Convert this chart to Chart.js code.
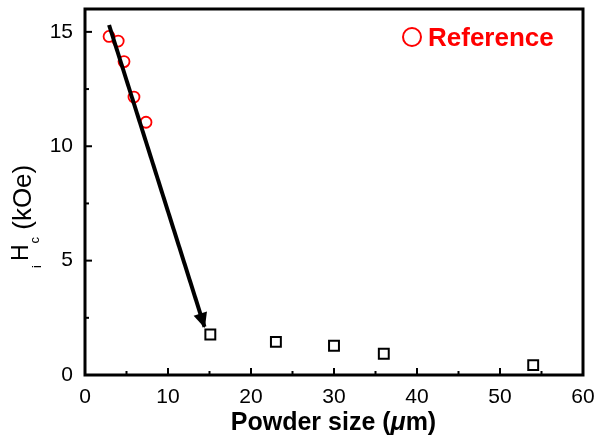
<!DOCTYPE html>
<html><head><meta charset="utf-8">
<script src="https://cdn.jsdelivr.net/npm/chart.js@4.4.0/dist/chart.umd.min.js"></script>
<style>html,body{margin:0;padding:0;background:#fff}#wrap{width:597px;height:439px}</style>
</head><body><div id="wrap"><canvas id="c" width="597" height="439"></canvas></div>
<script>
// ---- data ----
const refX = [2.9, 4.0, 4.7, 5.9, 7.35];
const refY = [14.8, 14.6, 13.7, 12.15, 11.05];
const sampleX = [15.1, 23.0, 30.0, 36.0, 54.0];
const sampleY = [1.77, 1.45, 1.28, 0.93, 0.43];
const arrowX = [2.9, 14.4];
const arrowY = [15.3, 2.1];
const xTickVals = [0, 10, 20, 30, 40, 50, 60];
const yTickVals = [0, 5, 10, 15];
const legendLabel = 'Reference';
const xTitleParts = ['Powder size (', 'μ', 'm)'];
const yTitleParts = ['i', 'H', 'c', ' (kOe)'];

const FONT = '"Liberation Sans", Arial, sans-serif';

const framePlugin = {
  id: 'frame',
  beforeDatasetsDraw(chart) {
    const {ctx, chartArea: a, scales: {x, y}} = chart;
    ctx.save();
    ctx.strokeStyle = '#000';
    ctx.lineCap = 'butt';
    ctx.lineWidth = 2;
    const xs = xTickVals;
    for (let i = 0; i < xs.length; i++) {
      const px = x.getPixelForValue(xs[i]);
      ctx.beginPath(); ctx.moveTo(px, a.bottom); ctx.lineTo(px, a.bottom - 7); ctx.stroke();
      if (i < xs.length - 1) {
        const pm = x.getPixelForValue((xs[i] + xs[i + 1]) / 2);
        ctx.beginPath(); ctx.moveTo(pm, a.bottom); ctx.lineTo(pm, a.bottom - 4); ctx.stroke();
      }
    }
    const ys = yTickVals;
    for (let i = 0; i < ys.length; i++) {
      const py = y.getPixelForValue(ys[i]);
      ctx.beginPath(); ctx.moveTo(a.left, py); ctx.lineTo(a.left + 7, py); ctx.stroke();
      const pm = y.getPixelForValue(ys[i] + 2.5);
      if (pm > a.top) { ctx.beginPath(); ctx.moveTo(a.left, pm); ctx.lineTo(a.left + 4, pm); ctx.stroke(); }
    }
    ctx.lineWidth = 3;
    ctx.strokeRect(a.left, a.top, a.right - a.left, a.bottom - a.top);
    ctx.restore();
  },
  afterDraw(chart) {
    const {ctx} = chart;
    // arrowhead at the end of the arrow dataset
    const meta = chart.getDatasetMeta(2);
    const p0 = meta.data[0], p1 = meta.data[meta.data.length - 1];
    const ang = Math.atan2(p1.y - p0.y, p1.x - p0.x);
    const L = 14, W = 7;
    ctx.save();
    ctx.fillStyle = '#000';
    ctx.translate(p1.x, p1.y); ctx.rotate(ang);
    ctx.beginPath(); ctx.moveTo(1, 0); ctx.lineTo(-L, -W); ctx.lineTo(-L, W); ctx.closePath(); ctx.fill();
    ctx.restore();

    // legend
    ctx.save();
    ctx.strokeStyle = '#ff0000'; ctx.lineWidth = 2;
    ctx.beginPath(); ctx.arc(412, 37, 9, 0, Math.PI * 2); ctx.stroke();
    ctx.fillStyle = '#ff0000';
    ctx.font = 'bold 26px ' + FONT;
    ctx.textBaseline = 'alphabetic'; ctx.textAlign = 'left';
    ctx.fillText(legendLabel, 428, 46);
    ctx.restore();

    // x title
    ctx.save();
    ctx.fillStyle = '#000'; ctx.textBaseline = 'alphabetic'; ctx.textAlign = 'left';
    const fN = 'bold 25px ' + FONT, fI = 'italic bold 25px ' + FONT;
    ctx.font = fN; const w0 = ctx.measureText(xTitleParts[0]).width;
    ctx.font = fI; const w1 = ctx.measureText(xTitleParts[1]).width;
    ctx.font = fN; const w2 = ctx.measureText(xTitleParts[2]).width;
    let sx = 333.5 - (w0 + w1 + w2) / 2;
    const by = 430;
    ctx.font = fN; ctx.fillText(xTitleParts[0], sx, by); sx += w0;
    ctx.font = fI; ctx.fillText(xTitleParts[1], sx, by); sx += w1;
    ctx.font = fN; ctx.fillText(xTitleParts[2], sx, by);
    ctx.restore();

    // y title (rotated)
    ctx.save();
    ctx.fillStyle = '#000'; ctx.textBaseline = 'alphabetic'; ctx.textAlign = 'left';
    ctx.translate(28, 268); ctx.rotate(-Math.PI / 2);
    let u = 0;
    ctx.font = '13px ' + FONT; ctx.fillText(yTitleParts[0], u, 13); u += ctx.measureText(yTitleParts[0]).width + 4;
    ctx.font = '23px ' + FONT; ctx.fillText(yTitleParts[1], u, 0); u += ctx.measureText(yTitleParts[1]).width + 1;
    ctx.font = '13px ' + FONT; ctx.fillText(yTitleParts[2], u, 11); u += ctx.measureText(yTitleParts[2]).width;
    ctx.font = '26px ' + FONT; ctx.fillText(yTitleParts[3], u, 3);
    ctx.restore();
  }
};

const toPts = (xs, ys) => xs.map((v, i) => ({x: v, y: ys[i]}));

new Chart(document.getElementById('c'), {
  type: 'scatter',
  data: {
    datasets: [
      {label: legendLabel, data: toPts(refX, refY), pointStyle: 'circle', pointRadius: 5.5,
       pointBorderWidth: 1.8, pointBorderColor: '#ff0000', pointBackgroundColor: 'rgba(0,0,0,0)', order: 3},
      {label: 'Samples', data: toPts(sampleX, sampleY), pointStyle: 'rect', pointRadius: 7,
       pointBorderWidth: 2, pointBorderColor: '#000', pointBackgroundColor: 'rgba(0,0,0,0)', order: 2},
      {label: 'Arrow', data: toPts(arrowX, arrowY), type: 'line', showLine: true, pointRadius: 0,
       borderColor: '#000', borderWidth: 4, borderCapStyle: 'butt', order: 1}
    ]
  },
  options: {
    responsive: false, animation: false, devicePixelRatio: 1,
    layout: {padding: {top: 6, right: 14, left: 0, bottom: 0}},
    plugins: {legend: {display: false}, tooltip: {enabled: false}},
    scales: {
      x: {type: 'linear', min: 0, max: 60,
          afterBuildTicks: s => { s.ticks = xTickVals.map(v => ({value: v})); },
          afterFit: s => { s.height = 64; s.paddingLeft = 0; s.paddingRight = 0; },
          grid: {display: false, drawTicks: false}, border: {display: false},
          ticks: {color: '#000', padding: 10, font: {family: FONT, size: 21}, maxRotation: 0}},
      y: {type: 'linear', min: 0, max: 16,
          afterBuildTicks: s => { s.ticks = yTickVals.map(v => ({value: v})); },
          afterFit: s => { s.width = 85; s.paddingTop = 0; s.paddingBottom = 0; },
          grid: {display: false, drawTicks: false}, border: {display: false},
          ticks: {color: '#000', padding: 12, font: {family: FONT, size: 21}}}
    }
  },
  plugins: [framePlugin]
});
</script></body></html>
